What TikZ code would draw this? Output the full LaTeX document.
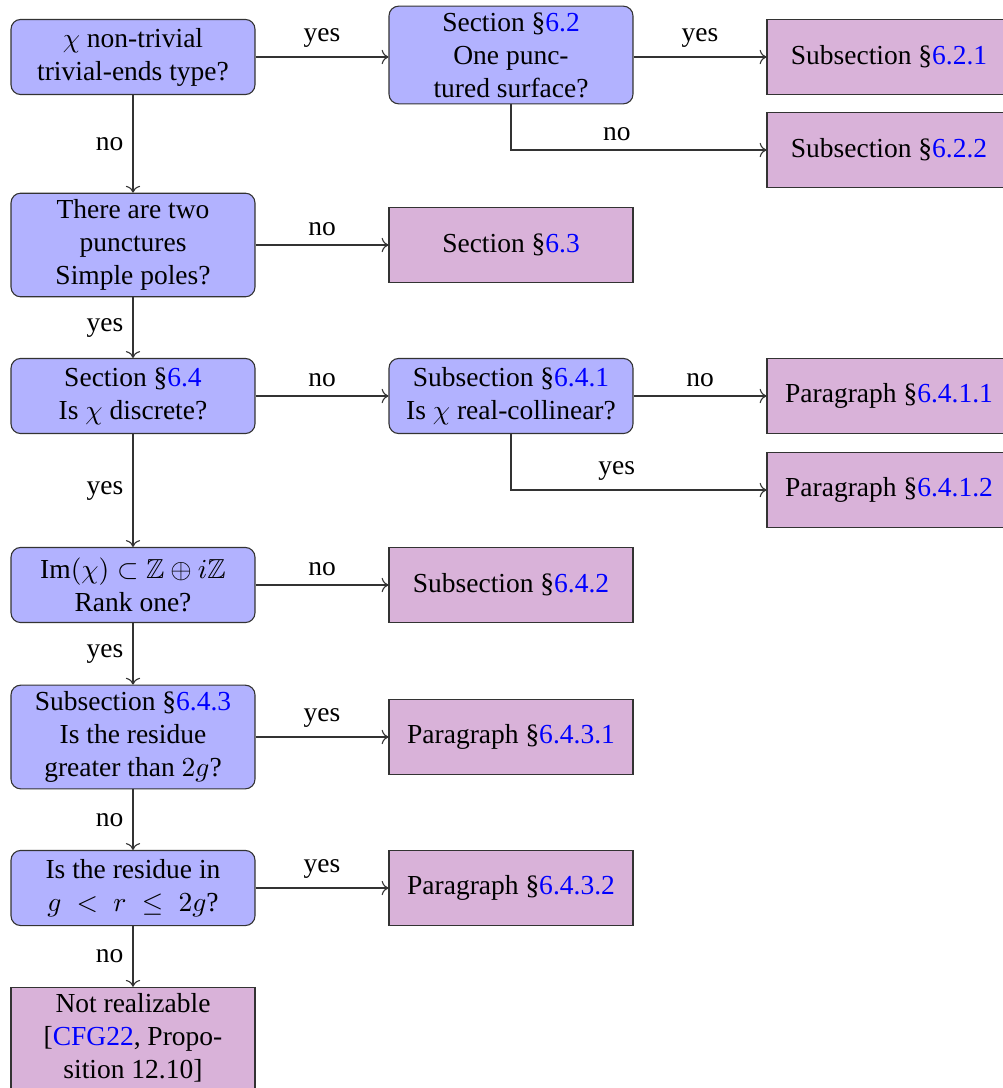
\documentclass[tikz,border=0pt]{standalone}
\usepackage{amssymb}
\usepackage{fontspec}
\setmainfont{Liberation Serif}
\usetikzlibrary{arrows.meta}
\tikzset{
  qbox/.style={draw=black!80, fill=blue!30, rounded corners=3.5pt, minimum width=88.7pt, minimum height=27.3pt, align=center, inner xsep=2pt, inner ysep=2.3pt},
  rbox/.style={draw=black!80, fill=violet!30, minimum width=88.7pt, minimum height=27.3pt, align=center, inner xsep=2pt, inner ysep=2.3pt},
  arr/.style={draw=black!80, ->},
  lab/.style={text=black}
}
\newcommand{\lnk}[1]{\textcolor{blue}{#1}}
\begin{document}
\begin{tikzpicture}[x=0.3636pt,y=-0.3636pt, font=\fontsize{10pt}{12pt}\selectfont]
\useasboundingbox (0,0) rectangle (1002,1088);
% left column
\node[qbox] (A) at (133,57) {$\chi$ non-trivial\\trivial-ends type?};
\node[qbox] (E) at (133,245) {There are two\\punctures\\Simple poles?};
\node[qbox] (G) at (133,396) {Section §\lnk{6.4}\\Is $\chi$ discrete?};
\node[qbox] (K) at (133,585) {$\mathrm{Im}(\chi)\subset\mathbb{Z}\oplus i\mathbb{Z}$\\Rank one?};
\node[qbox] (M) at (133,737) {Subsection §\lnk{6.4.3}\\Is the residue\\greater than $2g$?};
\node[qbox] (O) at (133,888) {Is the residue in\\$g\;<\;r\;\leq\;2g$?};
\node[rbox] (Q) at (133,1038) {Not realizable\\{[}\lnk{CFG22}, Propo-\\sition 12.10]};
% middle column
\node[qbox] (B) at (511,55) {Section §\lnk{6.2}\\One punc-\\tured surface?};
\node[rbox] (F) at (511,245) {Section §\lnk{6.3}};
\node[qbox] (H) at (511,396) {Subsection §\lnk{6.4.1}\\Is $\chi$ real-collinear?};
\node[rbox] (L) at (511,585) {Subsection §\lnk{6.4.2}};
\node[rbox] (N) at (511,737) {Paragraph §\lnk{6.4.3.1}};
\node[rbox] (P) at (511,888) {Paragraph §\lnk{6.4.3.2}};
% right column
\node[rbox] (C) at (889,57) {Subsection §\lnk{6.2.1}};
\node[rbox] (D) at (889,150) {Subsection §\lnk{6.2.2}};
\node[rbox] (I) at (889,396) {Paragraph §\lnk{6.4.1.1}};
\node[rbox] (J) at (889,490) {Paragraph §\lnk{6.4.1.2}};
% connectors
\draw[arr] (A.east) -- node[lab,above]{yes} (A.east -| B.west);
\draw[arr] (A.east -| B.east) -- node[lab,above]{yes} (C.west);
\draw[arr] (B.south) |- node[lab,above,pos=0.707]{no} (D.west);
\draw[arr] (A) -- node[lab,left]{no} (E);
\draw[arr] (E) -- node[lab,above]{no} (F);
\draw[arr] (E) -- node[lab,left]{yes} (G);
\draw[arr] (G) -- node[lab,above]{no} (H);
\draw[arr] (H) -- node[lab,above]{no} (I);
\draw[arr] (H.south) |- node[lab,above,pos=0.707]{yes} (J.west);
\draw[arr] (G) -- node[lab,left]{yes} (K);
\draw[arr] (K) -- node[lab,above]{no} (L);
\draw[arr] (K) -- node[lab,left]{yes} (M);
\draw[arr] (M) -- node[lab,above]{yes} (N);
\draw[arr] (M) -- node[lab,left]{no} (O);
\draw[arr] (O) -- node[lab,above]{yes} (P);
\draw[arr] (O) -- node[lab,left]{no} (Q);
\end{tikzpicture}
\end{document}
